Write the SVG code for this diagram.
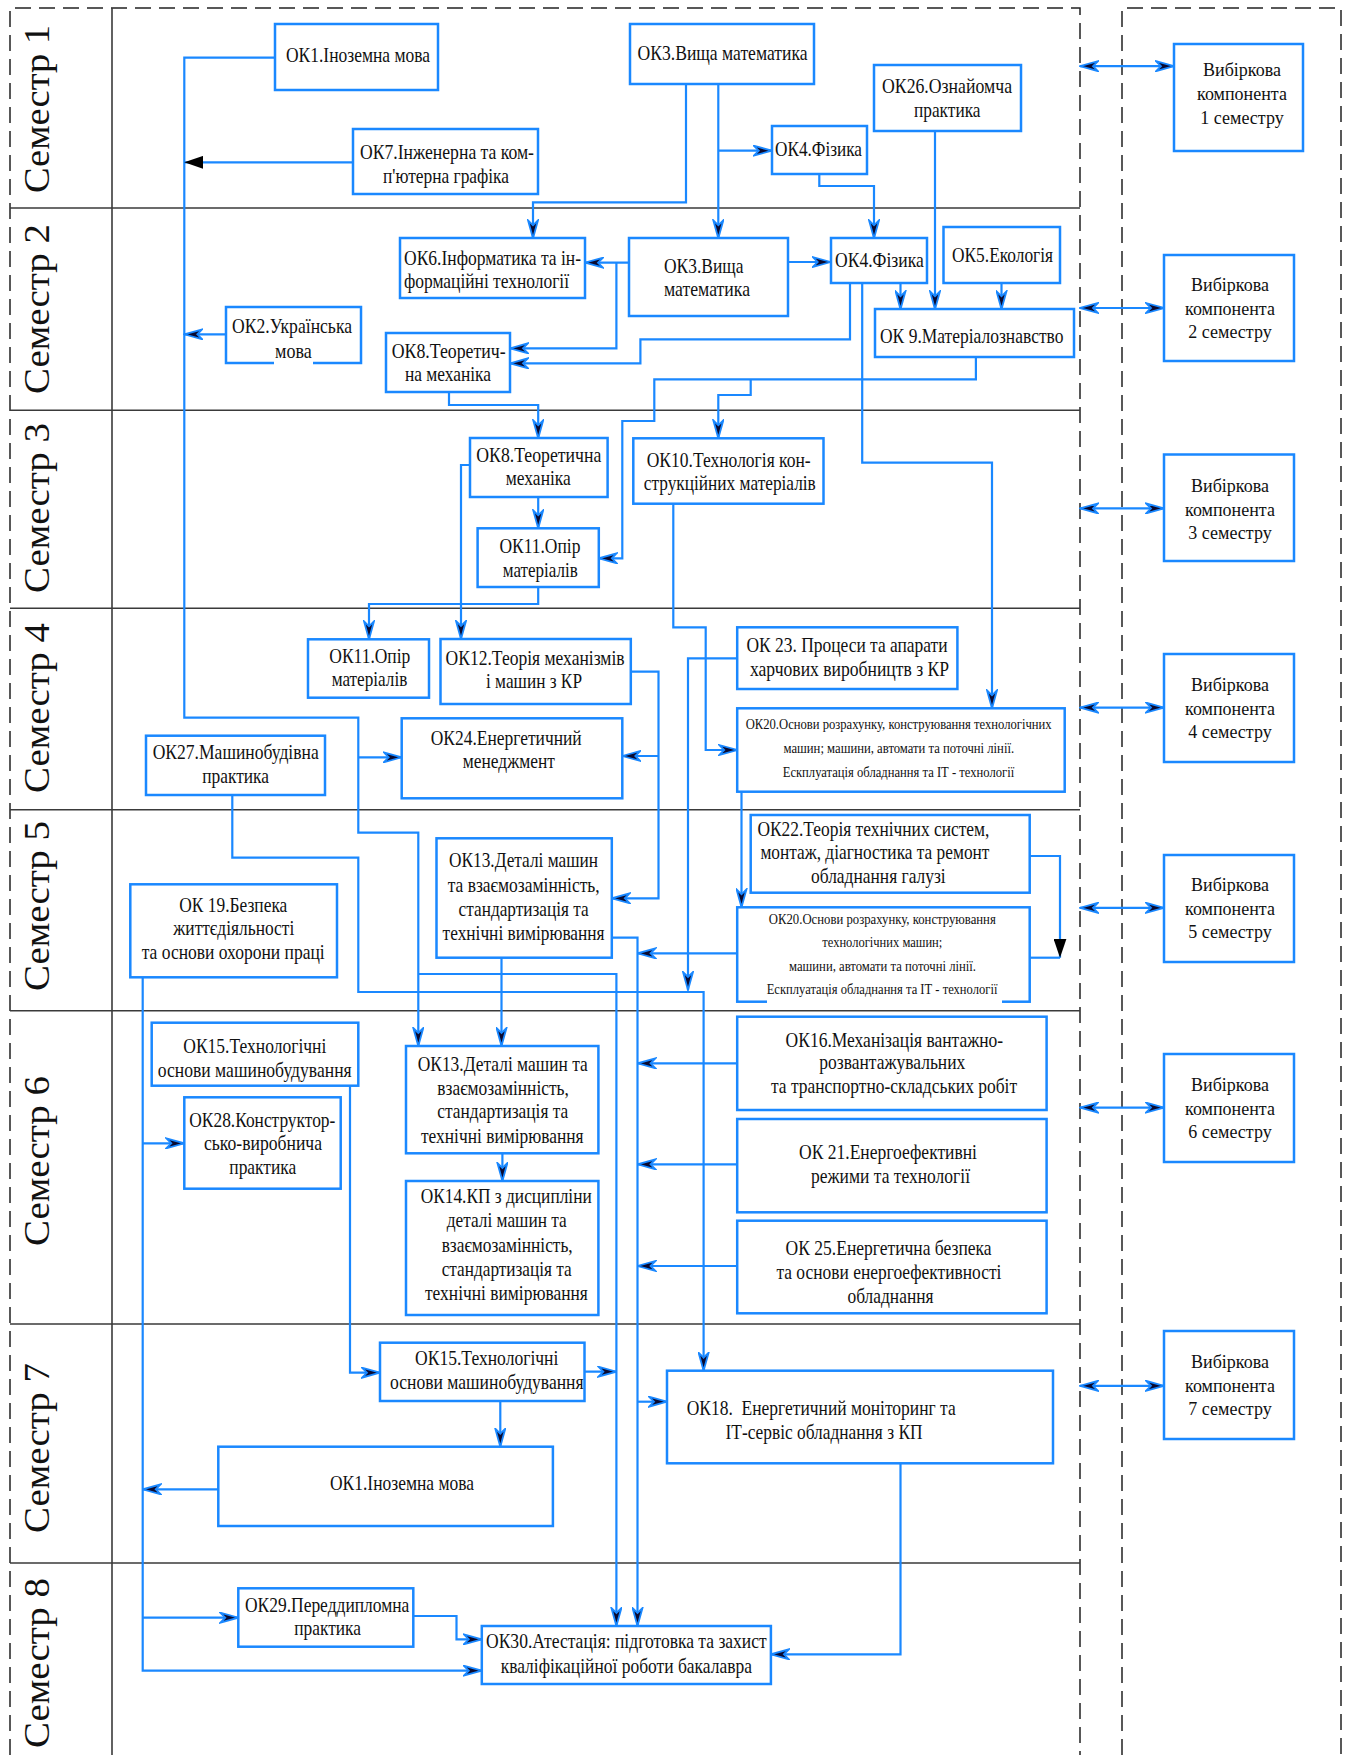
<svg xmlns="http://www.w3.org/2000/svg" width="1348" height="1755" viewBox="0 0 1348 1755">
<defs>
<style>
.bx{fill:#fff;stroke:#1a88ff;stroke-width:2.5}
.t{font-family:"Liberation Serif","Times New Roman",serif;font-size:21px;fill:#111}
.s{font-size:14.5px}
.v{font-family:"Liberation Serif","Times New Roman",serif;font-size:18px;fill:#111;text-anchor:middle}
.lab{font-family:"Liberation Serif","Times New Roman",serif;font-size:36px;fill:#111}
.c{fill:none;stroke:#1a88ff;stroke-width:2.2;marker-end:url(#a)}
.n{marker-end:none}
.k{marker-end:url(#b)}
.dd{fill:none;stroke:#1a88ff;stroke-width:2.2;marker-start:url(#a);marker-end:url(#a)}
.d{fill:none;stroke:#222;stroke-width:1.5;stroke-dasharray:16 8}
.ln{stroke:#3a3a3a;stroke-width:1.6}
.wh{fill:#fff}
</style>
<marker id="a" viewBox="0 0 20 12" refX="19" refY="6" markerWidth="20" markerHeight="12" markerUnits="userSpaceOnUse" orient="auto-start-reverse">
<path d="M1,1 L19,6 L1,11 L6,6 Z" fill="#0a0a30" stroke="#1a88ff" stroke-width="1.8"/>
</marker>
<marker id="b" viewBox="0 0 20 13" refX="19" refY="6.5" markerWidth="20" markerHeight="13" markerUnits="userSpaceOnUse" orient="auto">
<path d="M0,0 L19,6.5 L0,13 Z" fill="#000"/>
</marker>
</defs>
<rect width="1348" height="1755" fill="#fff"/>

<g id="frame">
<path class="d" d="M10,1755 V8 H1080 V1755"/>
<path class="d" d="M1122,1755 V8 H1341 V1755"/>
<line class="ln" x1="112" y1="8" x2="112" y2="1755" stroke="#555"/>
<line class="ln" x1="10" y1="208" x2="1080" y2="208"/>
<line class="ln" x1="10" y1="410.3" x2="1080" y2="410.3"/>
<line class="ln" x1="10" y1="608.3" x2="1080" y2="608.3"/>
<line class="ln" x1="10" y1="809.7" x2="1080" y2="809.7"/>
<line class="ln" x1="10" y1="1010.7" x2="1080" y2="1010.7"/>
<line class="ln" x1="10" y1="1324" x2="1080" y2="1324"/>
<line class="ln" x1="10" y1="1563" x2="1080" y2="1563"/>
</g>

<g id="lanes">
<text class="lab" transform="translate(48.5,193) rotate(-90)" textLength="168" lengthAdjust="spacingAndGlyphs">Семестр 1</text>
<text class="lab" transform="translate(48.5,394) rotate(-90)" textLength="170" lengthAdjust="spacingAndGlyphs">Семестр 2</text>
<text class="lab" transform="translate(48.5,593) rotate(-90)" textLength="170" lengthAdjust="spacingAndGlyphs">Семестр 3</text>
<text class="lab" transform="translate(48.5,793) rotate(-90)" textLength="170" lengthAdjust="spacingAndGlyphs">Семестр 4</text>
<text class="lab" transform="translate(48.5,991) rotate(-90)" textLength="170" lengthAdjust="spacingAndGlyphs">Семестр 5</text>
<text class="lab" transform="translate(48.5,1246) rotate(-90)" textLength="170" lengthAdjust="spacingAndGlyphs">Семестр 6</text>
<text class="lab" transform="translate(48.5,1533) rotate(-90)" textLength="170" lengthAdjust="spacingAndGlyphs">Семестр 7</text>
<text class="lab" transform="translate(48.5,1748) rotate(-90)" textLength="170" lengthAdjust="spacingAndGlyphs">Семестр 8</text>
</g>

<g id="connectors">
<path class="c" d="M275,57.7 H184.3 V717.7 H358.3 V832.7 H418.3 V1046"/>
<path class="c" d="M358.3,757.3 H401.7"/>
<path class="c" d="M418.3,974 H616.4 V1626"/>
<path class="c k" d="M353,162.3 H184.3"/>
<path class="c" d="M226,334.3 H184.3"/>
<path class="c" d="M686,84.3 V202.3 H533 V238.3"/>
<path class="c" d="M718.3,84.3 V238.3"/>
<path class="c" d="M718.3,150.7 H771.8"/>
<path class="c" d="M819.3,173.7 V186 H874 V238.3"/>
<path class="c" d="M935,130.7 V309.3"/>
<path class="c" d="M900.5,283.3 V309.3"/>
<path class="c" d="M1001.5,283.3 V309.3"/>
<path class="c" d="M628.7,262.7 H585"/>
<path class="c" d="M616.4,262.7 V348.3 H510"/>
<path class="c" d="M787.7,262 H830.7"/>
<path class="c" d="M850,283.3 V339.3 H640.4 V363.3 H510"/>
<path class="c" d="M862.2,283.3 V462.7 H992 V708.3"/>
<path class="c" d="M975.9,357.3 V379.3 H654.3 V421 H622.3 V558.3 H598.8"/>
<path class="c" d="M750.7,379.3 V395 H718.3 V438.3"/>
<path class="c" d="M449,392.3 V405 H538.2 V438.3"/>
<path class="c" d="M538.2,497 V528.3"/>
<path class="c" d="M470,465 H461 V639"/>
<path class="c" d="M538.2,587 V604 H369 V639.3"/>
<path class="c" d="M673.3,503.7 V627.3 H705.7 V750 H737.2"/>
<path class="c" d="M737.2,658.3 H688 V990"/>
<path class="c" d="M630.8,671.7 H658.5 V898.3 H611.8"/>
<path class="c" d="M658.5,756 H622.3"/>
<path class="c" d="M741.5,791.7 V907.3"/>
<path class="c k" d="M1029.7,856 H1060 V957.7"/>
<path class="c n" d="M1060,957.7 H1029.7"/>
<path class="c" d="M611.8,937.7 H637.5 V1626"/>
<path class="c" d="M737.2,953.3 H637.5"/>
<path class="c" d="M737.2,1063.3 H637.5"/>
<path class="c" d="M737.2,1164.3 H637.5"/>
<path class="c" d="M737.2,1266 H637.5"/>
<path class="c" d="M637.5,1401.7 H667"/>
<path class="c" d="M584.5,1371.7 H616.4"/>
<path class="c" d="M232.3,795 V857.7 H358.3 V992 H703.6 V1370.7"/>
<path class="c" d="M142.7,977.3 V1670.7 H481.8"/>
<path class="c" d="M142.7,1143.3 H184.3"/>
<path class="c" d="M142.7,1617.7 H238.3"/>
<path class="c" d="M218.3,1489.3 H142.7"/>
<path class="c" d="M350,1085.7 V1372.7 H380"/>
<path class="c" d="M502.4,1153.3 V1181"/>
<path class="c" d="M500.3,1401 V1446.7"/>
<path class="c" d="M413.3,1616 H456.5 V1639.3 H481.8"/>
<path class="c" d="M900.5,1463.3 V1654.3 H770.9"/>
<path class="c" d="M501.5,957.7 V1046"/>
<path class="dd" d="M1080,66.2 H1174"/>
<path class="dd" d="M1080,308 H1164"/>
<path class="dd" d="M1080,508.4 H1164"/>
<path class="dd" d="M1080,707.6 H1164"/>
<path class="dd" d="M1080,907.8 H1164"/>
<path class="dd" d="M1080,1107.6 H1164"/>
<path class="dd" d="M1080,1385.8 H1164"/>
</g>

<g id="ok1-s1"><rect class="bx" x="275" y="24" width="163" height="66"/>
<text class="t" x="286" y="61.5" textLength="144" lengthAdjust="spacingAndGlyphs">ОК1.Іноземна мова</text></g>
<g id="ok3-s1"><rect class="bx" x="630" y="24" width="184" height="60"/>
<text class="t" x="637.5" y="60" textLength="170" lengthAdjust="spacingAndGlyphs">ОК3.Вища математика</text></g>
<g id="ok26"><rect class="bx" x="874" y="65" width="147" height="66"/>
<text class="t" x="882" y="92.7" textLength="130" lengthAdjust="spacingAndGlyphs">ОК26.Ознайомча</text>
<text class="t" x="914" y="116.7" textLength="66.5" lengthAdjust="spacingAndGlyphs">практика</text></g>
<g id="ok4-s1"><rect class="bx" x="772" y="126" width="95" height="48"/>
<text class="t" x="775" y="156" textLength="87" lengthAdjust="spacingAndGlyphs">ОК4.Фізика</text></g>
<g id="ok7"><rect class="bx" x="353" y="129" width="185" height="65"/>
<text class="t" x="360" y="159.3" textLength="174" lengthAdjust="spacingAndGlyphs">ОК7.Інженерна та ком-</text>
<text class="t" x="383" y="183.3" textLength="126" lengthAdjust="spacingAndGlyphs">п'ютерна графіка</text></g>

<g id="ok6"><rect class="bx" x="400" y="238" width="185" height="60"/>
<text class="t" x="404" y="265" textLength="177" lengthAdjust="spacingAndGlyphs">ОК6.Інформатика та ін-</text>
<text class="t" x="404" y="288.3" textLength="165" lengthAdjust="spacingAndGlyphs">формаційні технології</text></g>
<g id="ok3-s2"><rect class="bx" x="629" y="238" width="159" height="78"/>
<text class="t" x="664" y="272.7" textLength="79.5" lengthAdjust="spacingAndGlyphs">ОК3.Вища</text>
<text class="t" x="664" y="296" textLength="86" lengthAdjust="spacingAndGlyphs">математика</text></g>
<g id="ok4-s2"><rect class="bx" x="831" y="238" width="96" height="45"/>
<text class="t" x="835" y="266.7" textLength="88.7" lengthAdjust="spacingAndGlyphs">ОК4.Фізика</text></g>
<g id="ok5"><rect class="bx" x="943.5" y="227" width="116.5" height="56"/>
<text class="t" x="952" y="261.7" textLength="101" lengthAdjust="spacingAndGlyphs">ОК5.Екологія</text></g>
<g id="ok9"><rect class="bx" x="875" y="309" width="199" height="48"/>
<text class="t" x="880" y="342.7" textLength="183.4" lengthAdjust="spacingAndGlyphs">ОК 9.Матеріалознавство</text></g>
<g id="ok2"><rect class="bx" x="226" y="307" width="135" height="56"/>
<rect class="wh" x="274" y="352" width="39" height="13"/>
<text class="t" x="232" y="332.7" textLength="120" lengthAdjust="spacingAndGlyphs">ОК2.Українська</text>
<text class="t" x="275" y="357.5" textLength="36.7" lengthAdjust="spacingAndGlyphs">мова</text></g>
<g id="ok8-s2"><rect class="bx" x="386" y="333" width="124" height="59"/>
<text class="t" x="391.7" y="358" textLength="114" lengthAdjust="spacingAndGlyphs">ОК8.Теоретич-</text>
<text class="t" x="405" y="381" textLength="86" lengthAdjust="spacingAndGlyphs">на механіка</text></g>

<g id="ok8-s3"><rect class="bx" x="470" y="438" width="137.6" height="59"/>
<text class="t" x="476.3" y="461.7" textLength="125" lengthAdjust="spacingAndGlyphs">ОК8.Теоретична</text>
<text class="t" x="505.8" y="485" textLength="65" lengthAdjust="spacingAndGlyphs">механіка</text></g>
<g id="ok11-s3"><rect class="bx" x="477.6" y="528.3" width="121.2" height="58.7"/>
<text class="t" x="499.4" y="553.3" textLength="81" lengthAdjust="spacingAndGlyphs">ОК11.Опір</text>
<text class="t" x="502.8" y="576.7" textLength="75" lengthAdjust="spacingAndGlyphs">матеріалів</text></g>
<g id="ok10"><rect class="bx" x="633.3" y="438.3" width="190.2" height="65.4"/>
<text class="t" x="646.7" y="466.7" textLength="164" lengthAdjust="spacingAndGlyphs">ОК10.Технологія кон-</text>
<text class="t" x="643.8" y="490" textLength="172" lengthAdjust="spacingAndGlyphs">струкційних матеріалів</text></g>

<g id="ok11-s4"><rect class="bx" x="308" y="639.3" width="121" height="58.4"/>
<text class="t" x="329.3" y="663.3" textLength="81" lengthAdjust="spacingAndGlyphs">ОК11.Опір</text>
<text class="t" x="331.7" y="686" textLength="75.6" lengthAdjust="spacingAndGlyphs">матеріалів</text></g>
<g id="ok12"><rect class="bx" x="440.5" y="639" width="190.3" height="65"/>
<text class="t" x="445.6" y="665" textLength="179" lengthAdjust="spacingAndGlyphs">ОК12.Теорія механізмів</text>
<text class="t" x="486" y="688.3" textLength="96" lengthAdjust="spacingAndGlyphs">і машин з КР</text></g>
<g id="ok23"><rect class="bx" x="737.2" y="627.3" width="220.2" height="61.7"/>
<text class="t" x="746.5" y="651.7" textLength="201" lengthAdjust="spacingAndGlyphs">ОК 23. Процеси та апарати</text>
<text class="t" x="750" y="676" textLength="199" lengthAdjust="spacingAndGlyphs">харчових виробництв з КР</text></g>
<g id="ok20-s4"><rect class="bx" x="737.2" y="708.3" width="327.5" height="83.4"/>
<text class="t s" x="745.7" y="729.3" textLength="306" lengthAdjust="spacingAndGlyphs">ОК20.Основи розрахунку, конструювання технологічних</text>
<text class="t s" x="783.5" y="753.3" textLength="230.6" lengthAdjust="spacingAndGlyphs">машин; машини, автомати та поточні лінії.</text>
<text class="t s" x="782.7" y="777.3" textLength="231.5" lengthAdjust="spacingAndGlyphs">Ескплуатація обладнання та ІТ - технології</text></g>
<g id="ok24"><rect class="bx" x="401.7" y="718.3" width="220.6" height="80"/>
<text class="t" x="430.7" y="745" textLength="151" lengthAdjust="spacingAndGlyphs">ОК24.Енергетичний</text>
<text class="t" x="462.8" y="768.3" textLength="92" lengthAdjust="spacingAndGlyphs">менеджмент</text></g>
<g id="ok27"><rect class="bx" x="146" y="735.7" width="179" height="59.3"/>
<text class="t" x="152.7" y="759.3" textLength="166" lengthAdjust="spacingAndGlyphs">ОК27.Машинобудівна</text>
<text class="t" x="202.3" y="782.7" textLength="66.7" lengthAdjust="spacingAndGlyphs">практика</text></g>

<g id="ok13-s5"><rect class="bx" x="436.5" y="838.3" width="175.3" height="119.4"/>
<text class="t" x="449" y="866.7" textLength="149" lengthAdjust="spacingAndGlyphs">ОК13.Деталі машин</text>
<text class="t" x="447.7" y="891.7" textLength="152" lengthAdjust="spacingAndGlyphs">та взаємозамінність,</text>
<text class="t" x="458.6" y="916" textLength="130" lengthAdjust="spacingAndGlyphs">стандартизація та</text>
<text class="t" x="442.6" y="940" textLength="162" lengthAdjust="spacingAndGlyphs">технічні вимірювання</text></g>
<g id="ok22"><rect class="bx" x="750.7" y="815" width="279" height="77.7"/>
<text class="t" x="757.4" y="835.5" textLength="232" lengthAdjust="spacingAndGlyphs">ОК22.Теорія технічних систем,</text>
<text class="t" x="760.4" y="859.3" textLength="229" lengthAdjust="spacingAndGlyphs">монтаж, діагностика та ремонт</text>
<text class="t" x="811" y="882.7" textLength="134.7" lengthAdjust="spacingAndGlyphs">обладнання галузі</text></g>
<g id="ok20-s5"><rect class="bx" x="737.2" y="907.3" width="292.5" height="94.4"/>
<rect class="wh" x="767" y="996" width="235" height="8"/>
<text class="t s" x="768.8" y="924" textLength="227" lengthAdjust="spacingAndGlyphs">ОК20.Основи розрахунку, конструювання</text>
<text class="t s" x="822.3" y="947.3" textLength="120" lengthAdjust="spacingAndGlyphs">технологічних машин;</text>
<text class="t s" x="789" y="970.7" textLength="187" lengthAdjust="spacingAndGlyphs">машини, автомати та поточні лінії.</text>
<text class="t s" x="766.7" y="994" textLength="230.7" lengthAdjust="spacingAndGlyphs">Ескплуатація обладнання та ІТ - технології</text></g>
<g id="ok19"><rect class="bx" x="130.3" y="884.3" width="206.7" height="93"/>
<text class="t" x="179.3" y="911.7" textLength="108" lengthAdjust="spacingAndGlyphs">ОК 19.Безпека</text>
<text class="t" x="173.3" y="935" textLength="121" lengthAdjust="spacingAndGlyphs">життєдіяльності</text>
<text class="t" x="141.7" y="959.3" textLength="183" lengthAdjust="spacingAndGlyphs">та основи охорони праці</text></g>

<g id="ok15-s6"><rect class="bx" x="151.7" y="1022.7" width="206.6" height="63"/>
<text class="t" x="183.3" y="1052.7" textLength="143" lengthAdjust="spacingAndGlyphs">ОК15.Технологічні</text>
<text class="t" x="157.7" y="1077.3" textLength="194" lengthAdjust="spacingAndGlyphs">основи машинобудування</text></g>
<g id="ok28"><rect class="bx" x="184.3" y="1097.3" width="156.4" height="91.4"/>
<text class="t" x="189.3" y="1126.7" textLength="146" lengthAdjust="spacingAndGlyphs">ОК28.Конструктор-</text>
<text class="t" x="204" y="1150" textLength="118" lengthAdjust="spacingAndGlyphs">сько-виробнича</text>
<text class="t" x="229.3" y="1174" textLength="67" lengthAdjust="spacingAndGlyphs">практика</text></g>
<g id="ok13-s6"><rect class="bx" x="406" y="1046" width="192.4" height="107.3"/>
<text class="t" x="417.7" y="1070.7" textLength="170" lengthAdjust="spacingAndGlyphs">ОК13.Деталі машин та</text>
<text class="t" x="437.3" y="1095" textLength="131.6" lengthAdjust="spacingAndGlyphs">взаємозамінність,</text>
<text class="t" x="437.3" y="1118.3" textLength="131" lengthAdjust="spacingAndGlyphs">стандартизація та</text>
<text class="t" x="421" y="1142.7" textLength="162.6" lengthAdjust="spacingAndGlyphs">технічні вимірювання</text></g>
<g id="ok14"><rect class="bx" x="406" y="1181" width="192.4" height="134"/>
<text class="t" x="420.7" y="1203.3" textLength="171" lengthAdjust="spacingAndGlyphs">ОК14.КП з дисципліни</text>
<text class="t" x="446.7" y="1227.3" textLength="120" lengthAdjust="spacingAndGlyphs">деталі машин та</text>
<text class="t" x="441.7" y="1251.7" textLength="131" lengthAdjust="spacingAndGlyphs">взаємозамінність,</text>
<text class="t" x="441.7" y="1275.7" textLength="130" lengthAdjust="spacingAndGlyphs">стандартизація та</text>
<text class="t" x="425" y="1300" textLength="162.8" lengthAdjust="spacingAndGlyphs">технічні вимірювання</text></g>
<g id="ok16"><rect class="bx" x="737.2" y="1016.7" width="309.4" height="93.3"/>
<text class="t" x="785.6" y="1046.7" textLength="217.6" lengthAdjust="spacingAndGlyphs">ОК16.Механізація вантажно-</text>
<text class="t" x="819.3" y="1069.3" textLength="146" lengthAdjust="spacingAndGlyphs">розвантажувальних</text>
<text class="t" x="771" y="1093.3" textLength="246" lengthAdjust="spacingAndGlyphs">та транспортно-складських робіт</text></g>
<g id="ok21"><rect class="bx" x="737.2" y="1119" width="309.4" height="93.3"/>
<text class="t" x="799" y="1159.3" textLength="178" lengthAdjust="spacingAndGlyphs">ОК 21.Енергоефективні</text>
<text class="t" x="811" y="1183.3" textLength="159" lengthAdjust="spacingAndGlyphs">режими та технології</text></g>
<g id="ok25"><rect class="bx" x="737.2" y="1220.7" width="309.4" height="92.6"/>
<text class="t" x="785.6" y="1255" textLength="206" lengthAdjust="spacingAndGlyphs">ОК 25.Енергетична безпека</text>
<text class="t" x="776.4" y="1279.3" textLength="225" lengthAdjust="spacingAndGlyphs">та основи енергоефективності</text>
<text class="t" x="847.5" y="1303.3" textLength="86" lengthAdjust="spacingAndGlyphs">обладнання</text></g>

<g id="ok15-s7"><rect class="bx" x="380" y="1342.7" width="204.5" height="58.3"/>
<text class="t" x="415" y="1365" textLength="143.4" lengthAdjust="spacingAndGlyphs">ОК15.Технологічні</text>
<text class="t" x="390" y="1389.3" textLength="193.6" lengthAdjust="spacingAndGlyphs">основи машинобудування</text></g>
<g id="ok1-s7"><rect class="bx" x="218.3" y="1446.7" width="334.6" height="79.3"/>
<text class="t" x="330" y="1490" textLength="144" lengthAdjust="spacingAndGlyphs">ОК1.Іноземна мова</text></g>
<g id="ok18"><rect class="bx" x="667" y="1370.7" width="386" height="92.6"/>
<text class="t" x="686.7" y="1415" textLength="269" lengthAdjust="spacingAndGlyphs">ОК18.&#160; Енергетичний моніторинг та</text>
<text class="t" x="725.5" y="1439.3" textLength="197" lengthAdjust="spacingAndGlyphs">ІТ-сервіс обладнання з КП</text></g>

<g id="ok29"><rect class="bx" x="238.3" y="1588.3" width="175" height="58.4"/>
<text class="t" x="245" y="1611.7" textLength="164.3" lengthAdjust="spacingAndGlyphs">ОК29.Переддипломна</text>
<text class="t" x="294.3" y="1635" textLength="66.7" lengthAdjust="spacingAndGlyphs">практика</text></g>
<g id="ok30"><rect class="bx" x="481.8" y="1626" width="289.1" height="58"/>
<text class="t" x="486" y="1648.3" textLength="280.7" lengthAdjust="spacingAndGlyphs">ОК30.Атестація: підготовка та захист</text>
<text class="t" x="500.7" y="1672.7" textLength="251.3" lengthAdjust="spacingAndGlyphs">кваліфікаційної роботи бакалавра</text></g>

<g id="vk1"><rect class="bx" x="1174" y="44" width="129" height="107"/>
<text class="v" x="1242" y="76">Вибіркова</text><text class="v" x="1242" y="100">компонента</text><text class="v" x="1242" y="124">1 семестру</text></g>
<g id="vk2"><rect class="bx" x="1164" y="255" width="130" height="106"/>
<text class="v" x="1230" y="291">Вибіркова</text><text class="v" x="1230" y="315">компонента</text><text class="v" x="1230" y="338">2 семестру</text></g>
<g id="vk3"><rect class="bx" x="1164" y="454.5" width="130" height="106.5"/>
<text class="v" x="1230" y="492">Вибіркова</text><text class="v" x="1230" y="516">компонента</text><text class="v" x="1230" y="539">3 семестру</text></g>
<g id="vk4"><rect class="bx" x="1164" y="654" width="130" height="108"/>
<text class="v" x="1230" y="691">Вибіркова</text><text class="v" x="1230" y="715">компонента</text><text class="v" x="1230" y="738">4 семестру</text></g>
<g id="vk5"><rect class="bx" x="1164" y="855" width="130" height="107"/>
<text class="v" x="1230" y="891">Вибіркова</text><text class="v" x="1230" y="915">компонента</text><text class="v" x="1230" y="938">5 семестру</text></g>
<g id="vk6"><rect class="bx" x="1164" y="1054" width="130" height="108"/>
<text class="v" x="1230" y="1091">Вибіркова</text><text class="v" x="1230" y="1115">компонента</text><text class="v" x="1230" y="1138">6 семестру</text></g>
<g id="vk7"><rect class="bx" x="1164" y="1331" width="130" height="108"/>
<text class="v" x="1230" y="1368">Вибіркова</text><text class="v" x="1230" y="1392">компонента</text><text class="v" x="1230" y="1415">7 семестру</text></g>
</svg>
